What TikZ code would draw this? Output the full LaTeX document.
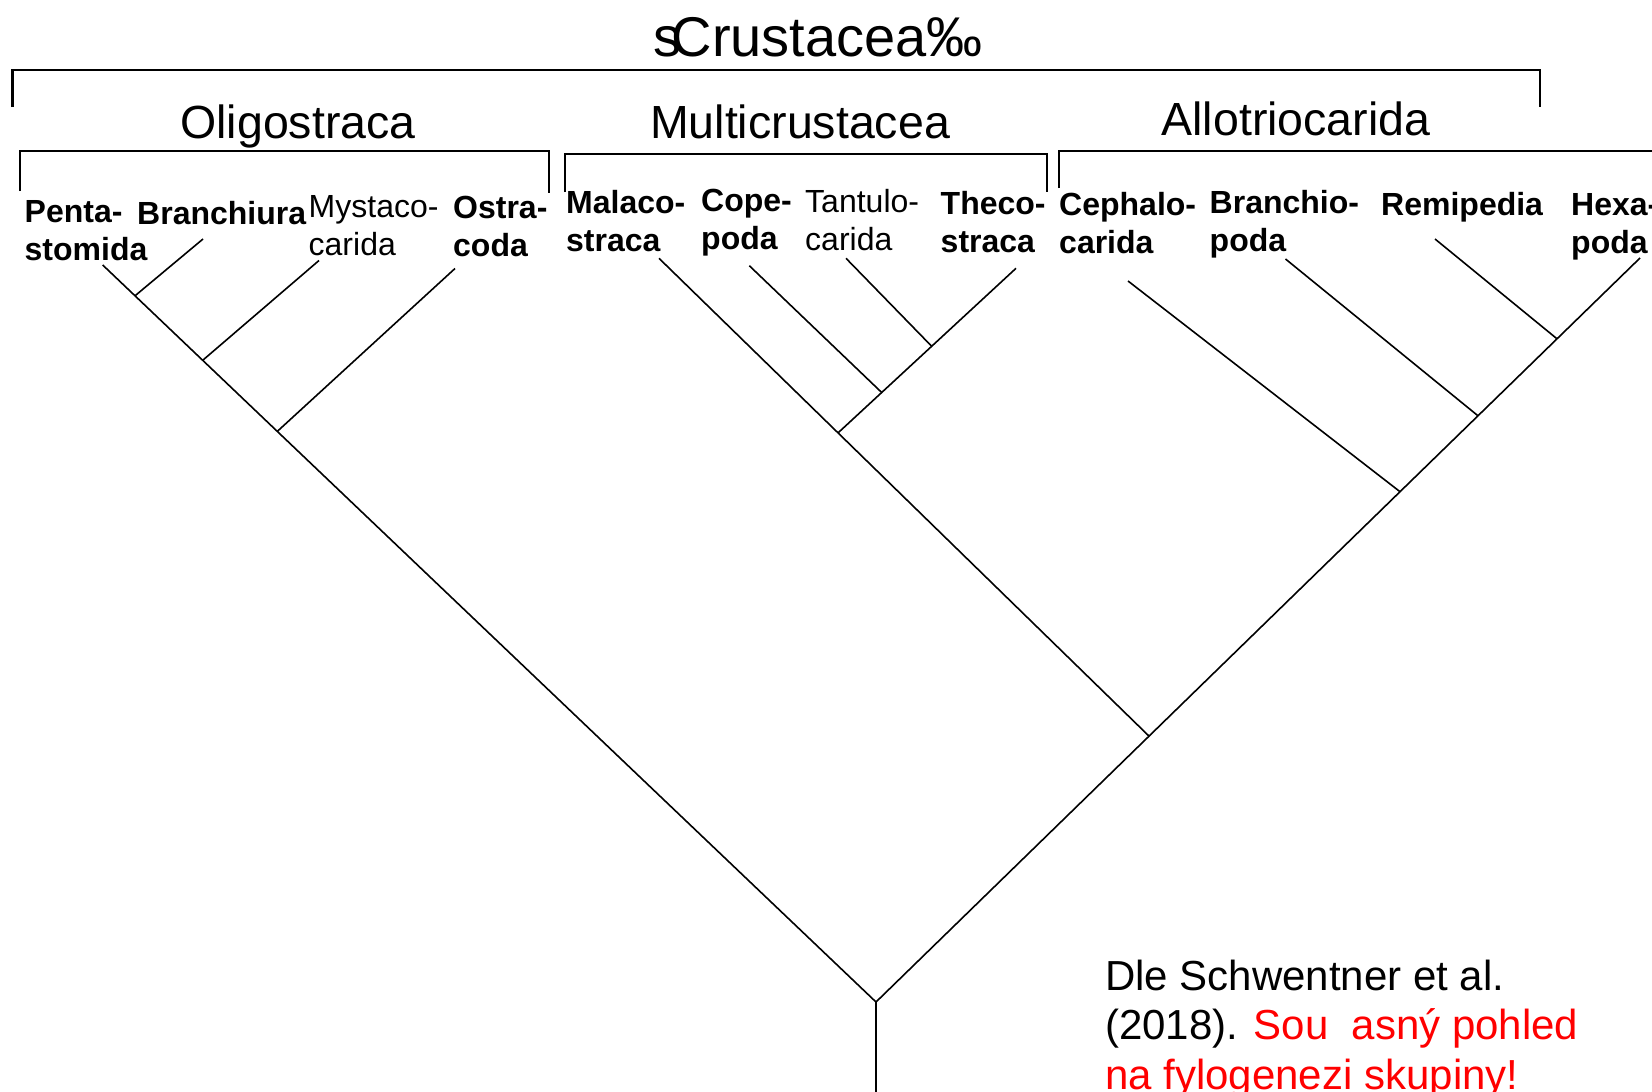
\documentclass[tikz,border=0pt]{standalone}
\usepackage{fontspec}
\setmainfont{Liberation Sans}
\usetikzlibrary{calc}
\begin{document}
\begin{tikzpicture}[x=1pt,y=-1pt,
  bracket/.style={line width=2.6pt},
  branch/.style={line width=1.6pt},
  taxb/.style={anchor=base west, inner sep=0pt, align=left, font=\fontsize{32}{38.8}\selectfont\bfseries},
  taxr/.style={anchor=base west, inner sep=0pt, align=left, font=\fontsize{32}{38.8}\selectfont},
  group/.style={anchor=base, inner sep=0pt, font=\fontsize{46.5}{50}\selectfont}]
\clip (0,0) rectangle (1652,1092);
\fill[white] (0,0) rectangle (1652,1092);

% title and group brackets
\node[anchor=base, inner sep=0pt, font=\fontsize{56}{62}\selectfont] (title) at (818,56) {s\kern-0.17em Crustacea‰};
\draw[bracket] (12.6,107) -- (12.6,70) -- (1540,70) -- (1540,107);

\node[group] (oligo) at (298,138) {Oligostraca};
\node[group] (multi) at (800,138) {Multicrustacea};
\node[group] (allo) at (1296,135) {Allotriocarida};

\draw[bracket] (20,191) -- (20,151) -- (549,151) -- (549,193);
\draw[bracket] (565,192) -- (565,154) -- (1047,154) -- (1047,192);
\draw[bracket] (1059,188) -- (1059,151) -- (1660,151);

% taxon labels (two-line nodes are placed by the baseline of their second line)
\node[taxb] (penta) at (24.5,260.8) {Penta-\\stomida};
\node[taxb] (branchiura) at (137,224.5) {Branchiura};
\node[taxr] (mystaco) at (308.5,255.8) {Mystaco-\\carida};
\node[taxb] (ostra) at (453,256.8) {Ostra-\\coda};
\node[taxb] (malaco) at (566,251.8) {Malaco-\\straca};
\node[taxb] (cope) at (701,249.8) {Cope-\\poda};
\node[taxr] (tantulo) at (805,250.8) {Tantulo-\\carida};
\node[taxb] (theco) at (940.5,252.8) {Theco-\\straca};
\node[taxb] (cephalo) at (1059,253.8) {Cephalo-\\carida};
\node[taxb] (branchio) at (1209.5,251.8) {Branchio-\\poda};
\node[taxb] (remi) at (1381,215) {Remipedia};
\node[taxb] (hexa) at (1571,253.8) {Hexa-\\poda};

% tree coordinates
\coordinate (root) at (876,1002);
\coordinate (bottom) at (876,1095);
\coordinate (tPenta) at (102.7,265);
\coordinate (tBranchiura) at (203,239);
\coordinate (tMysta) at (319,260.5);
\coordinate (tOstra) at (455,268.5);
\coordinate (jBranchiura) at (135,295.8);
\coordinate (jMysta) at (202.7,360.3);
\coordinate (jOstra) at (277.3,431.4);
\coordinate (tMalaco) at (659,258.3);
\coordinate (tCope) at (749.3,265.7);
\coordinate (tTantulo) at (846,258.3);
\coordinate (tTheco) at (1016,268.3);
\coordinate (jTantulo) at (931.7,346.3);
\coordinate (jCope) at (881.7,392.5);
\coordinate (jTheco) at (838,432.9);
\coordinate (jMalaco) at (1149,736.1);
\coordinate (tCephalo) at (1128,281);
\coordinate (tBranchio) at (1285.5,259);
\coordinate (tRemi) at (1435,239);
\coordinate (tHexa) at (1640,258);
\coordinate (jRemi) at (1557,338.8);
\coordinate (jBranchio) at (1478,415.8);
\coordinate (jCephalo) at (1400,491.7);

% tree
\draw[branch] (tPenta) -- (root);
\draw[branch] (tBranchiura) -- (jBranchiura);
\draw[branch] (tMysta) -- (jMysta);
\draw[branch] (tOstra) -- (jOstra);
\draw[branch] (tMalaco) -- (jMalaco);
\draw[branch] (tTheco) -- (jTheco);
\draw[branch] (tCope) -- (jCope);
\draw[branch] (tTantulo) -- (jTantulo);
\draw[branch] (tHexa) -- (root);
\draw[branch] (tRemi) -- (jRemi);
\draw[branch] (tBranchio) -- (jBranchio);
\draw[branch] (tCephalo) -- (jCephalo);
\draw[branch] (root) -- (bottom);

% note (placed by the baseline of its last line)
\node[anchor=base west, inner sep=0pt, align=left, font=\fontsize{42}{49.5}\selectfont] (note) at (1105,1089)
  {Dle Schwentner et al.\\(2018). \textcolor{red}{Sou\ \ asný pohled}\\\textcolor{red}{na fylogenezi skupiny!}};
\end{tikzpicture}
\end{document}
